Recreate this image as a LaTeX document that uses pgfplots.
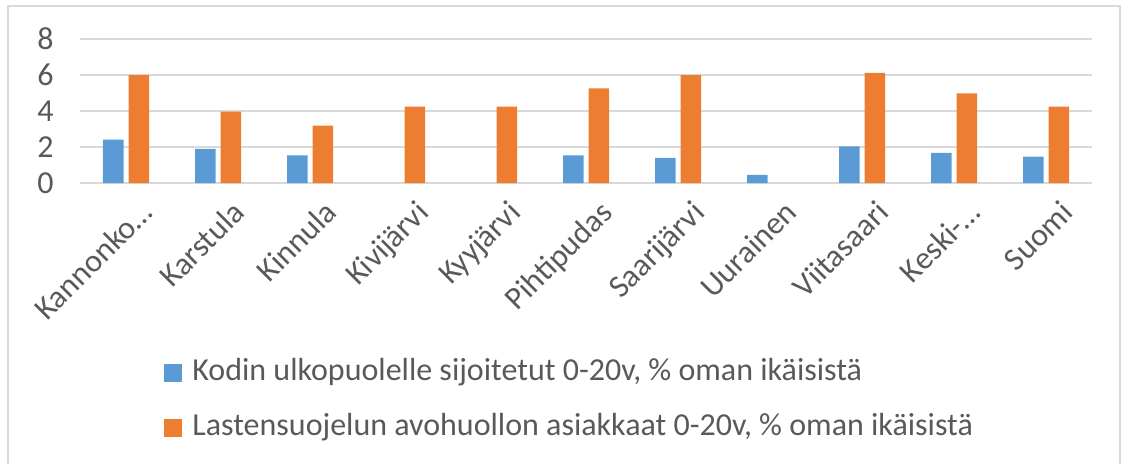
\documentclass[border=0pt]{standalone}
\usepackage{fontspec}
\setmainfont{Carlito}
\usepackage{pgfplots}
\pgfplotsset{compat=1.18}
\definecolor{xlblue}{HTML}{5B9BD5}
\definecolor{xlorange}{HTML}{ED7D31}
\definecolor{gridgray}{HTML}{D9D9D9}
\definecolor{txtgray}{HTML}{595959}

\begin{document}
\begin{tikzpicture}
  \useasboundingbox (-40pt,-140pt) rectangle (521pt,91.5pt);
  \draw[gridgray, line width=1pt] (-36pt,-142pt) -- (-36pt,88.5pt) -- (520pt,88.5pt) -- (520pt,-142pt);
  \begin{axis}[
      at={(0pt,0pt)}, anchor=south west,
      scale only axis, width=506pt, height=72pt,
      ybar=2.5pt, bar width=10.25pt,
      ymin=0, ymax=8, ytick={0,2,4,6,8},
      xmin=-0.5, xmax=10.5, xtick={0,...,10},
      xticklabels={Kannonko…,Karstula,Kinnula,Kivijärvi,Kyyjärvi,Pihtipudas,Saarijärvi,Uurainen,Viitasaari,Keski-…,Suomi},
      enlargelimits=false,
      axis line style={draw=none},
      major tick length=0pt,
      ymajorgrids, grid style={gridgray, line width=1pt},
      /pgf/number format/assume math mode=true,
      tick label style={font=\fontsize{16pt}{19pt}\selectfont, text=txtgray},
      yticklabel style={inner sep=0pt, xshift=-13pt},
      xticklabel style={rotate=45, anchor=north east, inner sep=0pt, yshift=-10pt, xshift=-1pt},
      legend cell align=left,
      legend image code/.code={\fill[#1] (0pt,-4.5pt) rectangle (9pt,4.5pt);},
      legend style={at={(axis description cs:0.083,-1.51)}, anchor=west,
        draw=none, fill=none, inner sep=0pt, row sep=13.5pt, column sep=5pt,
        font=\fontsize{16pt}{19pt}\selectfont, text=txtgray,
        nodes={inner sep=0pt, text height=11pt, text depth=3pt}},
    ]
    \addplot[fill=xlblue, draw=none] coordinates {
      (0,2.41) (1,1.90) (2,1.53) (5,1.53) (6,1.40) (7,0.45) (8,2.03) (9,1.68) (10,1.47)};
    \addplot[fill=xlorange, draw=none] coordinates {
      (0,5.99) (1,3.97) (2,3.19) (3,4.25) (4,4.25) (5,5.26) (6,5.99) (8,6.12) (9,4.98) (10,4.25)};
    \legend{{Kodin ulkopuolelle sijoitetut 0-20v, \% oman ikäisistä},
            {Lastensuojelun avohuollon asiakkaat 0-20v, \% oman ikäisistä}}
  \end{axis}
\end{tikzpicture}
\end{document}
